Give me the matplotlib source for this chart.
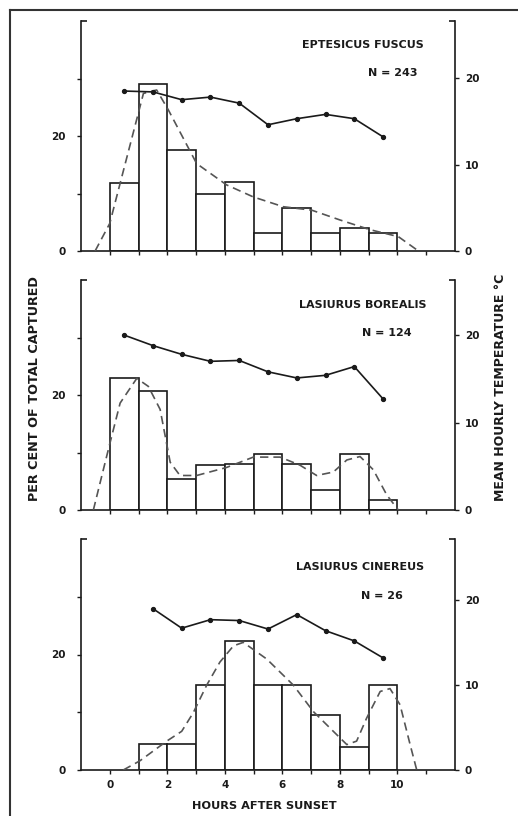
import matplotlib
matplotlib.use("Agg")
import matplotlib.pyplot as plt
from matplotlib.lines import Line2D
import numpy as np

# ---------------- data ----------------
hours_edges_ef = [0, 1, 2, 3, 4, 5, 6, 7, 8, 9]
pct_ef = [11.8, 29.0, 17.6, 10.0, 12.0, 3.1, 7.4, 3.1, 4.0, 3.1]
temp_x_ef = [0.5, 1.5, 2.5, 3.5, 4.5, 5.5, 6.5, 7.5, 8.5, 9.5]
temp_ef = [18.5, 18.4, 17.5, 17.8, 17.1, 14.6, 15.3, 15.8, 15.3, 13.2]
curve_x_ef = [-0.51, 0.0, 0.18, 1.17, 1.63, 2.04, 3.02, 4.06, 4.99, 6.03, 7.02, 8.0, 9.05, 10.03, 10.73]
curve_y_ef = [0, 4.8, 8.3, 27.4, 28.0, 24.5, 15.2, 11.5, 9.4, 7.7, 7.1, 5.4, 3.7, 2.5, 0]

hours_edges_lb = [0, 1, 2, 3, 4, 5, 6, 7, 8, 9]
pct_lb = [23.0, 20.7, 5.4, 7.8, 8.0, 9.7, 8.0, 3.5, 9.7, 1.8]
temp_x_lb = [0.5, 1.5, 2.5, 3.5, 4.5, 5.5, 6.5, 7.5, 8.5, 9.5]
temp_lb = [20.0, 18.8, 17.8, 17.0, 17.1, 15.8, 15.1, 15.4, 16.4, 12.7]
curve_x_lb = [-0.57, -0.16, 0.01, 0.36, 0.94, 1.34, 1.75, 2.1, 2.44, 3.02, 4.06, 4.99, 5.92,
              6.61, 7.19, 7.77, 8.24, 8.7, 9.16, 9.63, 10.03]
curve_y_lb = [0, 8.3, 11.7, 18.6, 22.9, 21.5, 17.5, 8.3, 6.0, 6.0, 7.4, 9.2, 9.2,
              7.8, 6.0, 6.6, 8.7, 9.3, 7.0, 2.6, 0]

hours_edges_lc = [1, 2, 3, 4, 5, 6, 7, 8, 9]
pct_lc = [4.5, 4.5, 14.7, 22.3, 14.7, 14.7, 9.6, 4.0, 14.7]
temp_x_lc = [1.5, 2.5, 3.5, 4.5, 5.5, 6.5, 7.5, 8.5, 9.5]
temp_lc = [19.0, 16.7, 17.7, 17.6, 16.6, 18.3, 16.4, 15.2, 13.2]
curve_x_lc = [0.47, 1.05, 1.98, 2.5, 2.9, 3.37, 3.83, 4.3, 4.64, 5.46, 6.38, 7.08, 7.77,
              8.24, 8.58, 8.93, 9.4, 9.74, 10.09, 10.44, 10.67]
curve_y_lc = [0, 1.6, 5.0, 6.7, 9.9, 14.7, 18.7, 21.5, 22.1, 19.2, 14.7, 10.1, 6.7,
              4.4, 5.0, 9.0, 13.6, 14.1, 11.3, 4.4, 0]

species = ["EPTESICUS FUSCUS", "LASIURUS BOREALIS", "LASIURUS CINEREUS"]
n_labels = ["N = 243", "N = 124", "N = 26"]
x_ticklabels = ["0", "2", "4", "6", "8", "10"]

panels = [
    (hours_edges_ef, pct_ef, temp_x_ef, temp_ef, curve_x_ef, curve_y_ef),
    (hours_edges_lb, pct_lb, temp_x_lb, temp_lb, curve_x_lb, curve_y_lb),
    (hours_edges_lc, pct_lc, temp_x_lc, temp_lc, curve_x_lc, curve_y_lc),
]

# ---------------- layout ----------------
W, H = 518, 816
fig = plt.figure(figsize=(W / 100, H / 100), dpi=100)
plt.rcParams['font.family'] = ['DejaVu Sans']

ax_px = [(21, 251), (280, 510), (539, 770)]
ax_left, ax_right = 81, 455
right_tops = [26.6, 26.3, 27.2]
title_pos = [((0.754, 0.896), (0.834, 0.774)),
             ((0.754, 0.891), (0.818, 0.770)),
             ((0.746, 0.879), (0.805, 0.753))]

ink = "#1a1a1a"
fs = 7.5
tfs = 8

for i, (edges, pct, tx, ty, cx, cy) in enumerate(panels):
    top, bot = ax_px[i]
    ax = fig.add_axes([ax_left / W, 1 - bot / H, (ax_right - ax_left) / W, (bot - top) / H])
    ax.set_xlim(-1, 12)
    ax.set_ylim(0, 40)
    ax.bar(edges, pct, width=1.0, align='edge', facecolor='white', edgecolor=ink,
           linewidth=1.2, zorder=2)
    ax.plot(cx, cy, linestyle=(0, (5, 3)), color="#555555", linewidth=1.2, zorder=3)

    for s in ['top', 'right']:
        ax.spines[s].set_visible(False)
    for s in ['left', 'bottom']:
        ax.spines[s].set_linewidth(1.2)
        ax.spines[s].set_color(ink)
    ax.set_yticks([0, 10, 20, 30])
    ax.set_yticklabels(["0", "", "20", ""], fontsize=fs, fontweight='bold', color=ink)
    ax.set_yticks([40], minor=True)
    ax.tick_params(axis='y', which='major', direction='out', length=3, width=1, pad=8, colors=ink)
    ax.tick_params(axis='y', which='minor', direction='in', length=4, width=1.2, colors=ink)
    ax.set_xticks(list(range(0, 12)))
    if i == 2:
        ax.set_xticklabels([x_ticklabels[k // 2] if (k % 2 == 0 and k <= 10) else ""
                            for k in range(12)], fontsize=fs, fontweight='bold', color=ink)
    else:
        ax.set_xticklabels([""] * 12)
    ax.tick_params(axis='x', direction='out', length=3, width=1, pad=4, colors=ink)
    ax.patch.set_alpha(0)

    ax2 = ax.twinx()
    ax2.set_ylim(0, right_tops[i])
    ax2.plot(tx, ty, color=ink, linewidth=1.2, marker='o', markersize=2.8, zorder=4)
    for s in ['top', 'left', 'bottom']:
        ax2.spines[s].set_visible(False)
    ax2.spines['right'].set_linewidth(1.2)
    ax2.spines['right'].set_color(ink)
    ax2.set_yticks([0, 10, 20])
    ax2.set_yticklabels(["0", "10", "20"], fontsize=fs, fontweight='bold', color=ink)
    ax2.set_yticks([right_tops[i]], minor=True)
    ax2.tick_params(axis='y', which='major', direction='out', length=3, width=1, pad=4, colors=ink)
    ax2.tick_params(axis='y', which='minor', direction='in', length=4, width=1.2, colors=ink)

    (tpx, tpy), (npx, npy) = title_pos[i]
    ax.text(tpx, tpy, species[i], transform=ax.transAxes, ha='center', va='center',
            fontsize=tfs, fontweight='bold', color=ink)
    ax.text(npx, npy, n_labels[i], transform=ax.transAxes, ha='center', va='center',
            fontsize=tfs, fontweight='bold', color=ink)

fig.text(35 / W, 1 - 389 / H, "PER CENT OF TOTAL CAPTURED", rotation=90, ha='center',
         va='center', fontsize=9.2, fontweight='bold', color=ink)
fig.text(500 / W, 1 - 387 / H, "MEAN HOURLY TEMPERATURE °C", rotation=90, ha='center',
         va='center', fontsize=9.0, fontweight='bold', color=ink)
fig.text(264 / W, 1 - 806 / H, "HOURS AFTER SUNSET", ha='center', va='center',
         fontsize=8.2, fontweight='bold', color=ink)

# frame
fig.add_artist(Line2D([10 / W, 1.0], [1 - 10 / H, 1 - 10 / H], transform=fig.transFigure,
                      color="#333333", linewidth=1.5))
fig.add_artist(Line2D([10 / W, 10 / W], [0, 1 - 10 / H], transform=fig.transFigure,
                      color="#333333", linewidth=1.5))

fig.savefig("out.png", dpi=100)
